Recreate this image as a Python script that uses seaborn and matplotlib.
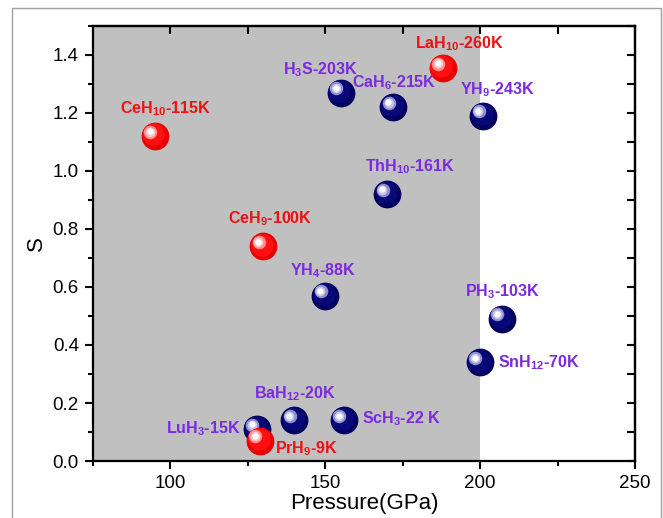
import matplotlib
matplotlib.use("Agg")
import matplotlib.pyplot as plt
import matplotlib.transforms as mtransforms
from matplotlib.patches import Rectangle
from matplotlib.ticker import MultipleLocator, FormatStrFormatter
import pandas as pd
import seaborn as sns

sns.set_style("ticks")
plt.rcParams["font.family"] = ["Liberation Sans", "DejaVu Sans"]
plt.rcParams["mathtext.fontset"] = "custom"
plt.rcParams["mathtext.rm"] = "Liberation Sans"
plt.rcParams["mathtext.bf"] = "Liberation Sans:bold"
plt.rcParams["mathtext.default"] = "bf"
for key in ["text.color", "axes.labelcolor", "xtick.color", "ytick.color", "axes.edgecolor"]:
    plt.rcParams[key] = "black"

# data
compounds = ["CeH$_{10}$-115K", "CeH$_{9}$-100K", "LaH$_{10}$-260K", "PrH$_{9}$-9K",
             "H$_{3}$S-203K", "CaH$_{6}$-215K", "YH$_{9}$-243K", "ThH$_{10}$-161K",
             "YH$_{4}$-88K", "PH$_{3}$-103K", "SnH$_{12}$-70K", "LuH$_{3}$-15K",
             "BaH$_{12}$-20K", "ScH$_{3}$-22 K"]
pressure_gpa = [95, 130, 188, 129, 155, 172, 201, 170, 150, 207, 200, 128, 140, 156]
s_values = [1.12, 0.74, 1.355, 0.07, 1.27, 1.22, 1.19, 0.92, 0.57, 0.49, 0.34, 0.11, 0.14, 0.14]
series = ["red", "red", "red", "red", "blue", "blue", "blue", "blue",
          "blue", "blue", "blue", "blue", "blue", "blue"]
shade_range = (75, 200)

df = pd.DataFrame({"compound": compounds, "pressure": pressure_gpa,
                   "S": s_values, "series": series})

# label placement (ha, dx px, dy px)
label_pos = [("center", 10, 27), ("center", 7, 28), ("center", 16, 24), ("left", 15, -8),
             ("center", -20, 23), ("center", 1, 24), ("center", 14, 26), ("center", 23, 27),
             ("center", -2, 25), ("center", 0, 27), ("left", 18, 0), ("right", -17, 0),
             ("center", 1, 27), ("left", 18, 2)]

text_color = {"red": "#ee1111", "blue": "#7b2ae0"}
# sphere shading layers: (size pt^2, dx pt, dy pt, colours)
layers = [
    (400, 0, 0, {"red": "#e80000", "blue": "#01015e"}),
    (260, -1.2, 1.2, {"red": "#ff0f0f", "blue": "#080878"}),
    (95, -3.4, 3.2, {"red": "#ff8a8a", "blue": "#8e8ecc"}),
    (50, -3.5, 3.3, {"red": "#ffc4c4", "blue": "#c4c4e8"}),
    (20, -3.6, 3.4, {"red": "#ffffff", "blue": "#ffffff"}),
]

fig = plt.figure(figsize=(6.63, 5.18), dpi=100)
ax = fig.add_axes([0.140, 0.110, 0.818, 0.840])
ax.axvspan(*shade_range, color="#c0c0c0", zorder=0, lw=0)

for grp in ["blue", "red"]:
    sub = df[df.series == grp]
    for size, dx, dy, cols in layers:
        trans = ax.transData + mtransforms.ScaledTranslation(dx / 72, dy / 72, fig.dpi_scale_trans)
        sns.scatterplot(data=sub, x="pressure", y="S", color=cols[grp], s=size,
                        linewidth=0, legend=False, ax=ax, transform=trans, zorder=3)

for (_, row), (ha, dx, dy) in zip(df.iterrows(), label_pos):
    ax.annotate(row.compound, (row.pressure, row.S), xytext=(dx, dy),
                textcoords="offset pixels", ha=ha, va="center",
                color=text_color[row.series], fontsize=11.5, fontweight="bold", zorder=4)

ax.set_xlim(75, 250)
ax.set_ylim(0, 1.5)
ax.xaxis.set_major_locator(MultipleLocator(50))
ax.xaxis.set_minor_locator(MultipleLocator(25))
ax.yaxis.set_major_locator(MultipleLocator(0.2))
ax.yaxis.set_minor_locator(MultipleLocator(0.1))
ax.yaxis.set_major_formatter(FormatStrFormatter("%.1f"))
ax.tick_params(which="major", direction="out", length=6, width=1.5, labelsize=13.5, pad=4)
ax.tick_params(which="minor", direction="out", length=3.5, width=1.5)
for sp in ax.spines.values():
    sp.set_linewidth(1.6)

sec_x = ax.secondary_xaxis("top")
sec_x.xaxis.set_major_locator(MultipleLocator(50))
sec_x.xaxis.set_minor_locator(MultipleLocator(25))
sec_x.tick_params(which="both", direction="in", length=6, width=1.5, labeltop=False)
sec_y = ax.secondary_yaxis("right")
sec_y.yaxis.set_major_locator(MultipleLocator(0.2))
sec_y.yaxis.set_minor_locator(MultipleLocator(0.1))
sec_y.tick_params(which="both", direction="in", length=6, width=1.5, labelright=False)
for s in (sec_x, sec_y):
    for sp in s.spines.values():
        sp.set_linewidth(1.6)

ax.set_xlabel("Pressure(GPa)", fontsize=16, labelpad=1)
ax.set_ylabel("S", fontsize=16, labelpad=4)

fig.patches.append(Rectangle((12 / 663, -0.01), 649 / 663, 1 - 8 / 518 + 0.01,
                             transform=fig.transFigure, fill=False,
                             edgecolor="#a0a0a0", lw=1))

fig.savefig("out.png", dpi=100)
